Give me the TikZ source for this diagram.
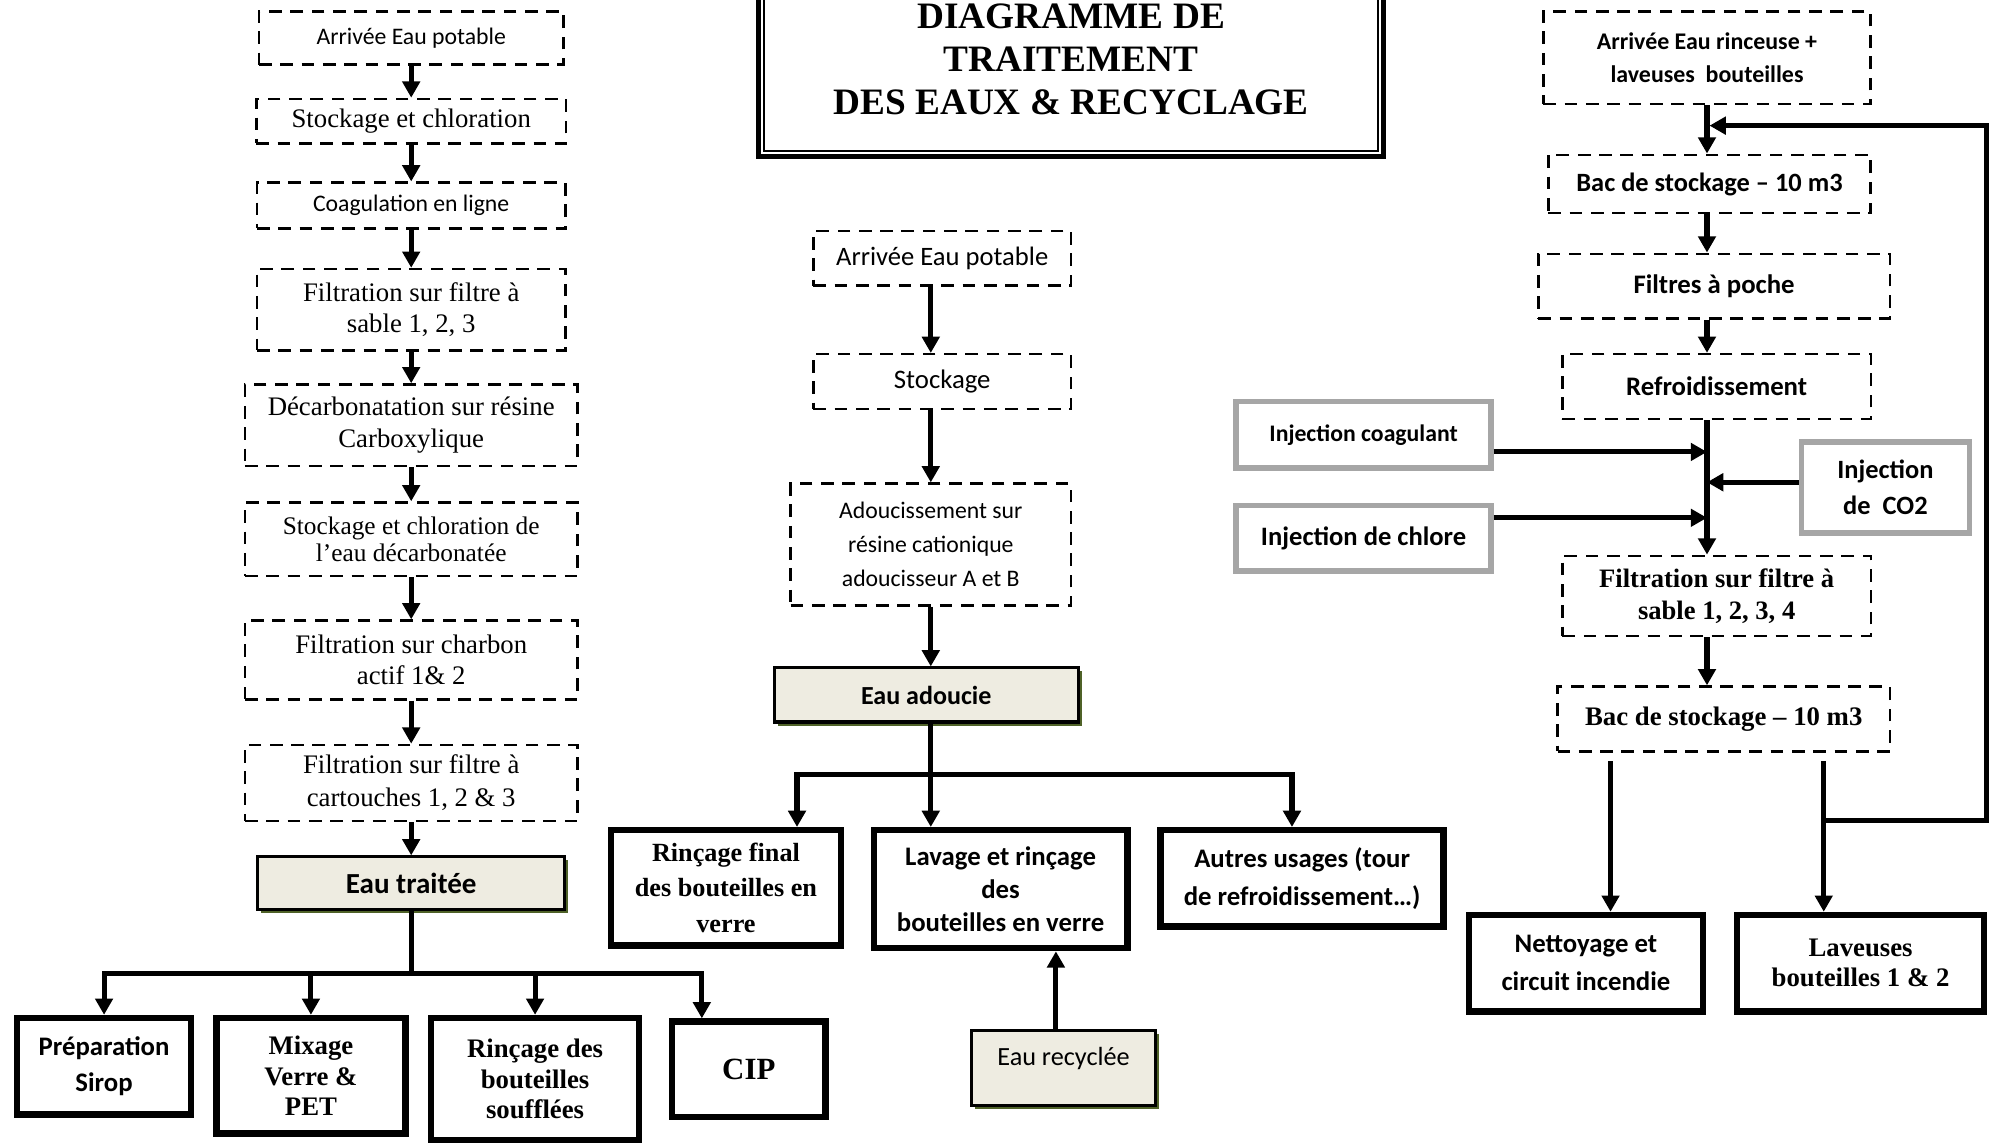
\documentclass[tikz,border=0pt]{standalone}
\usepackage{fontspec}
\setmainfont{Liberation Serif}
\newfontfamily\calibri{Carlito}
\usepackage{tikz}
\usetikzlibrary{arrows.meta, positioning, shadows}

\definecolor{beige}{HTML}{EEECE1}
\definecolor{shadowgreen}{HTML}{4F6228}
\definecolor{injgray}{HTML}{A6A6A6}
\newcommand{\fsz}[2]{\fontsize{#1}{#2}\selectfont}

\begin{document}
\begin{tikzpicture}[
    node distance=0.7cm,
    dashbox/.style={rectangle, draw, line width=0.05cm, dash pattern=on 0.25cm off 0.17cm, align=center, inner sep=1pt},
    enduse/.style={rectangle, draw, line width=0.125cm, align=center, inner sep=1pt},
    injbox/.style={rectangle, draw=injgray, line width=0.11cm, align=center, inner sep=1pt},
    waterbox/.style={rectangle, draw, fill=beige, line width=0.06cm, align=center, inner sep=1pt,
        drop shadow={shadow xshift=0.07cm, shadow yshift=-0.07cm, fill=shadowgreen, opacity=1}},
    arrow/.style={-{Triangle[length=0.32cm, width=0.34cm]}, line width=0.1cm},
    pipe/.style={line width=0.1cm},
    tnr/.style={font=\fsz{15}{17.5}},
    tnrb/.style={font=\bfseries\fsz{15}{17.5}},
    cal/.style={font=\calibri\fsz{13.3}{19}},
    calb/.style={font=\calibri\bfseries\fsz{15}{21}},
]
\path[use as bounding box, clip] (0,0) rectangle (39.2,-22.5);

% Title
\node[draw, line width=0.1cm, minimum width=12.3cm, minimum height=3.8cm, align=center,
      font=\bfseries\fsz{20.9}{24}] (title) at (21.1,-1.175) {DIAGRAMME DE\\TRAITEMENT\\DES EAUX \& RECYCLAGE};
\draw[line width=0.04cm] ([shift={(0.15,-0.15)}]title.north west) rectangle ([shift={(-0.15,0.15)}]title.south east);

% Left column: eau traitee
\node[dashbox, cal, minimum width=6cm, minimum height=1.05cm] (l1) at (8.1,-0.75) {Arrivée Eau potable};
\node[dashbox, tnr, minimum width=6.1cm, minimum height=0.875cm, below=0.625cm of l1] (l2) {Stockage et chloration};
\draw[arrow] (l1) -- (l2);
\node[dashbox, cal, minimum width=6.075cm, minimum height=0.9cm, below=0.725cm of l2] (l3) {Coagulation en ligne};
\draw[arrow] (l2) -- (l3);
\node[dashbox, tnr, minimum width=6.075cm, minimum height=1.6cm, below=0.75cm of l3] (l4) {Filtration sur filtre à\\sable 1, 2, 3};
\draw[arrow] (l3) -- (l4);
\node[dashbox, tnr, font=\fsz{15}{17.8}, minimum width=6.55cm, minimum height=1.6cm, below=0.625cm of l4] (l5) {Décarbonatation sur résine\\Carboxylique};
\draw[arrow] (l4) -- (l5);
\node[dashbox, font=\fsz{14.2}{15.6}, minimum width=6.55cm, minimum height=1.45cm, below=0.675cm of l5] (l6) {Stockage et chloration de\\l’eau décarbonatée};
\draw[arrow] (l5) -- (l6);
\node[dashbox, tnr, minimum width=6.55cm, minimum height=1.55cm, below=0.825cm of l6] (l7) {Filtration sur charbon\\actif 1\& 2};
\draw[arrow] (l6) -- (l7);
\node[dashbox, font=\fsz{15}{18.5}, minimum width=6.55cm, minimum height=1.5cm, below=0.85cm of l7] (l8) {Filtration sur filtre à\\cartouches 1, 2 \& 3};
\draw[arrow] (l7) -- (l8);
\node[waterbox, calb, font=\calibri\bfseries\fsz{16.3}{20}, minimum width=6.04cm, minimum height=1.04cm, below=0.65cm of l8] (eauT) {Eau traitée};
\draw[arrow] (l8) -- (eauT);

% Left users
\coordinate[below=1.225cm of eauT] (splitT);
\draw[pipe] (eauT) -- (splitT);
\node[enduse, calb, font=\calibri\bfseries\fsz{15}{20.6}, minimum width=3.425cm, minimum height=1.9cm, anchor=north] (prep) at (2.05,-19.99) {Préparation\\Sirop};
\node[enduse, tnrb, font=\bfseries\fsz{15}{17}, minimum width=3.725cm, minimum height=2.275cm, anchor=north] (mix) at (6.125,-19.99) {Mixage\\Verre \&\\PET};
\node[enduse, tnrb, font=\bfseries\fsz{15}{17}, minimum width=4.1cm, minimum height=2.4cm, anchor=north] (rinB) at (10.54,-19.99) {Rinçage des\\bouteilles\\soufflées};
\node[enduse, font=\bfseries\fsz{17.3}{20}, minimum width=3.025cm, minimum height=1.875cm, anchor=north] (cip) at (14.75,-20.06) {CIP};
\draw[arrow] (splitT) -| (prep);
\draw[arrow] (splitT) -| (mix);
\draw[arrow] (splitT) -| (rinB);
\draw[arrow] (splitT) -| ([xshift=-0.925cm]cip.north);

% Middle column: eau adoucie
\node[dashbox, cal, font=\calibri\fsz{14.9}{18}, minimum width=5.075cm, minimum height=1.075cm] (c1) at (18.56,-5.09) {Arrivée Eau potable};
\node[dashbox, cal, font=\calibri\fsz{15}{18}, minimum width=5.075cm, minimum height=1.075cm, below=1.3cm of c1] (c2) {Stockage};
\node[dashbox, cal, minimum width=5.525cm, minimum height=2.4cm, below=1.425cm of c2, xshift=-0.225cm] (c3) {Adoucissement sur\\résine cationique\\adoucisseur A et B};
\node[waterbox, calb, font=\calibri\bfseries\fsz{14.6}{18}, minimum width=5.99cm, minimum height=1.065cm, below=1.175cm of c3, xshift=-0.09cm] (eauA) {Eau adoucie};
\draw[arrow] (c1.south -| c3.south) -- (c2.north -| c3.south);
\draw[arrow] (c2.south -| c3.south) -- (c3.north);
\draw[arrow] (c3.south) -- (c3.south |- eauA.north);

% Middle users
\draw[pipe] (eauA.south -| c3.south) -- ++(0,-1) coordinate (splitA);
\node[enduse, tnrb, font=\bfseries\fsz{14.7}{20}, minimum width=4.525cm, minimum height=2.275cm, anchor=north] (r1) at (14.3,-16.29) {Rinçage final\\des bouteilles en\\verre};
\node[enduse, calb, font=\calibri\bfseries\fsz{15}{18.5}, minimum width=5cm, minimum height=2.325cm, anchor=north] (r2) at (19.71,-16.29) {Lavage et rinçage\\des\\bouteilles en verre};
\node[enduse, calb, minimum width=5.575cm, minimum height=1.9cm, anchor=north] (r3) at (25.65,-16.29) {Autres usages (tour\\de refroidissement…)};
\draw[arrow] (splitA) -- (splitA |- r2.north);
\draw[arrow] (splitA) -| ([xshift=1.4cm]r1.north);
\draw[arrow] (splitA) -| ([xshift=-0.2cm]r3.north);
\node[waterbox, cal, font=\calibri\fsz{14.7}{18}, text depth=0.45cm, minimum width=3.64cm, minimum height=1.465cm] (recyc) at (20.95,-21.04) {Eau recyclée};
\draw[arrow] ([xshift=-0.15cm]recyc.north) -- ([xshift=-0.15cm]recyc.north |- r2.south);

% Right column: recyclage
\node[dashbox, calb, font=\calibri\bfseries\fsz{13.4}{19}, minimum width=6.45cm, minimum height=1.825cm] (a) at (33.625,-1.1375) {Arrivée Eau rinceuse +\\laveuses\ \ bouteilles};
\node[dashbox, calb, font=\calibri\bfseries\fsz{14.8}{18}, minimum width=6.35cm, minimum height=1.15cm, below=0.95cm of a, xshift=0.05cm] (b) {Bac de stockage – 10 m3};
\node[dashbox, calb, minimum width=6.925cm, minimum height=1.275cm, below=0.75cm of b, xshift=0.09cm] (c) {Filtres à poche};
\node[dashbox, calb, minimum width=6.075cm, minimum height=1.275cm, below=0.65cm of c, xshift=0.05cm] (d) {Refroidissement};
\node[dashbox, tnrb, font=\bfseries\fsz{14.9}{17.8}, minimum width=6.075cm, minimum height=1.575cm, below=2.65cm of d] (e) {Filtration sur filtre à\\sable 1, 2, 3, 4};
\node[dashbox, tnrb, minimum width=6.55cm, minimum height=1.275cm, below=0.95cm of e, xshift=0.14cm] (f) {Bac de stockage – 10 m3};
\draw[arrow] (a.south) -- (b.north -| a.south);
\draw[arrow] (b.south -| a.south) -- (c.north -| a.south);
\draw[arrow] (c.south -| a.south) -- (d.north -| a.south);
\draw[arrow] (d.south -| a.south) -- (e.north -| a.south);
\draw[arrow] (e.south -| a.south) -- (f.north -| a.south);

% Injections
\node[injbox, calb, font=\calibri\bfseries\fsz{13.3}{16}, minimum width=5.015cm, minimum height=1.315cm] (ic) at (26.86,-8.5625) {Injection coagulant};
\node[injbox, calb, font=\calibri\bfseries\fsz{14.9}{18}, minimum width=5.015cm, minimum height=1.29cm] (icl) at (26.86,-10.6) {Injection de chlore};
\node[injbox, calb, font=\calibri\bfseries\fsz{14.8}{20.6}, minimum width=3.315cm, minimum height=1.79cm] (co2) at (37.14,-9.6) {Injection\\de\ \ CO2};
\draw[arrow] ([yshift=-0.34cm]ic.east) -- ([yshift=-0.34cm]ic.east -| a.south);
\draw[arrow] ([yshift=0.4cm]icl.east) -- ([yshift=0.4cm]icl.east -| a.south);
\draw[arrow] ([yshift=0.1cm]co2.west) -- ([yshift=0.1cm]co2.west -| a.south);

% Right users and return loop
\node[enduse, calb, minimum width=4.6cm, minimum height=1.9cm, anchor=north] (g) at (31.24,-17.96) {Nettoyage et\\circuit incendie};
\node[enduse, tnrb, font=\bfseries\fsz{15}{17}, minimum width=4.875cm, minimum height=1.9cm, anchor=north] (h) at (36.65,-17.96) {Laveuses\\bouteilles 1 \& 2};
\draw[arrow, shorten <=0.175cm] ([xshift=0.485cm]g.north |- f.south) -- ([xshift=0.485cm]g.north);
\draw[arrow, shorten <=0.175cm] ([xshift=-0.725cm]h.north |- f.south) -- ([xshift=-0.725cm]h.north);
\coordinate (ret) at ([xshift=-0.725cm, yshift=1.8cm]h.north);
\draw[arrow, shorten >=0.05cm] (ret) -- ++(3.2,0) |- ([yshift=-0.4cm]a.south);
\end{tikzpicture}
\end{document}
